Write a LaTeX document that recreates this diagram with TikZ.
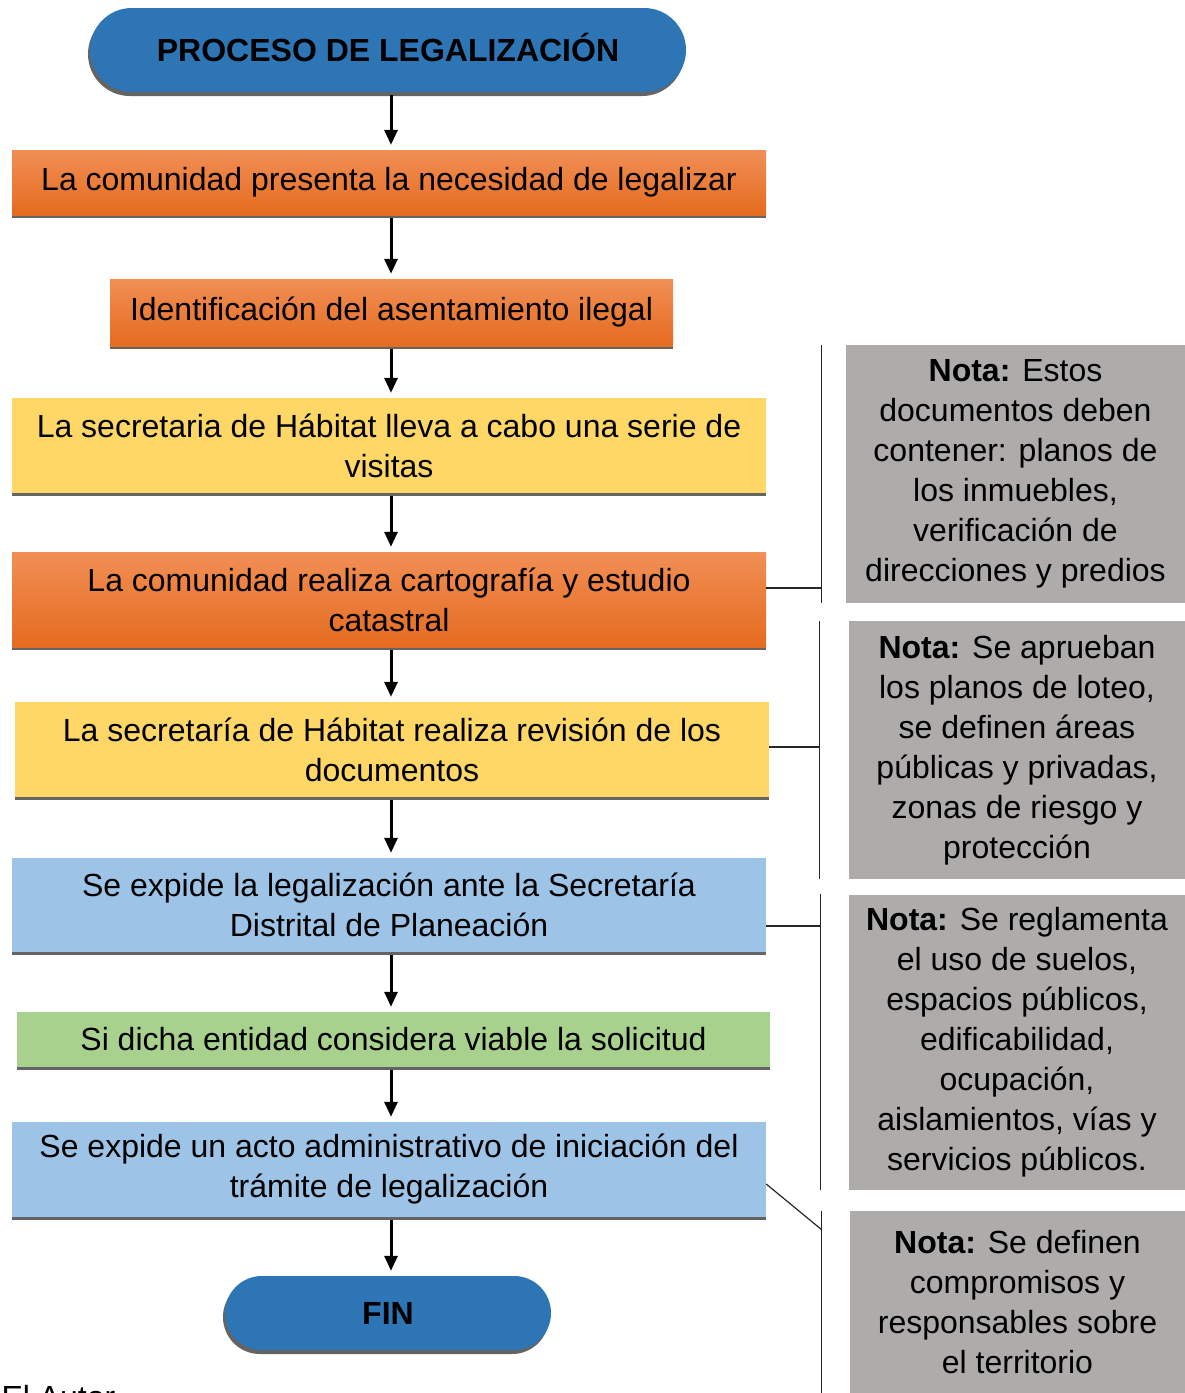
\documentclass[tikz,border=0pt]{standalone}
\usepackage{fontspec}
\setmainfont{Liberation Sans}
\usetikzlibrary{arrows.meta,shadows}
\definecolor{azul}{HTML}{2E75B6}
\definecolor{naranjaA}{HTML}{F18F55}
\definecolor{naranjaB}{HTML}{E56B1F}
\definecolor{amarillo}{HTML}{FED766}
\definecolor{celeste}{HTML}{9DC3E6}
\definecolor{verde}{HTML}{A9D18E}
\definecolor{gris}{HTML}{AEABAB}
\definecolor{sombra}{HTML}{646464}
\newcommand{\texto}{\fontsize{32}{40}\selectfont}
\newcommand{\guia}[2]{\draw[linea] (#1) -- (#2)}

\begin{document}
\begin{tikzpicture}[x=1pt, y=-1pt, font=\texto,
	caja/.style={rectangle, inner sep=0pt, align=center,
		drop shadow={shadow xshift=0pt, shadow yshift=-3pt, fill=sombra, opacity=1}},
	naranja/.style={caja, top color=naranjaA, bottom color=naranjaB},
	terminal/.style={rectangle, rounded corners=#1, fill=azul, inner sep=0pt, font=\texto\bfseries,
		drop shadow={shadow xshift=-2pt, shadow yshift=-4pt, fill=sombra, opacity=1}},
	nota/.style={rectangle, fill=gris, inner sep=0pt, align=center},
	flecha/.style={line width=3pt, -{Triangle[length=15pt,width=13pt]}},
	linea/.style={line width=1.2pt, black!85}]
	\useasboundingbox (0,0) rectangle (1185,1393);
%The steps
	\node[terminal=41.9pt, minimum width=596pt, minimum height=84pt, text depth=6pt] (inicio) at (388,50) {PROCESO DE LEGALIZACIÓN};
	\node[naranja, minimum width=754pt, minimum height=65pt] (necesidad) at (389,182.5) {La comunidad presenta la necesidad de legalizar};
	\node[naranja, minimum width=563pt, minimum height=67pt] (identificacion) at (391.5,312.5) {Identificación del asentamiento ilegal};
	\node[caja, fill=amarillo, minimum width=754pt, minimum height=95pt] (visitas) at (389,445.5) {La secretaria de Hábitat lleva a cabo una serie de\\ visitas};
	\node[naranja, minimum width=754pt, minimum height=95pt] (cartografia) at (389,599.5) {La comunidad realiza cartografía y estudio\\ catastral};
	\node[caja, fill=amarillo, minimum width=754pt, minimum height=95pt] (revision) at (392,749.5) {La secretaría de Hábitat realiza revisión de los\\ documentos};
	\node[caja, fill=celeste, minimum width=754pt, minimum height=94pt] (planeacion) at (389,905) {Se expide la legalización ante la Secretaría\\ Distrital de Planeación};
	\node[caja, fill=verde, minimum width=753pt, minimum height=55pt] (viable) at (393.5,1039.5) {Si dicha entidad considera viable la solicitud};
	\node[caja, fill=celeste, minimum width=754pt, minimum height=95pt] (acto) at (389,1169.5) {Se expide un acto administrativo de iniciación del\\ trámite de legalización};
	\node[terminal=36.9pt, minimum width=326pt, minimum height=74pt] (fin) at (388,1313) {FIN};
	\node[anchor=base west] (autor) at (-2,1408) {El Autor};
%Arrows
	\coordinate (eje) at (391,0);
	\foreach \a/\b in {inicio/necesidad, necesidad/identificacion, identificacion/visitas,
		visitas/cartografia, cartografia/revision, revision/planeacion,
		planeacion/viable, viable/acto, acto/fin}
		\draw[flecha, shorten <=3pt, shorten >=5pt] (\a.south -| eje) -- (\b.north -| eje);
%Notes
	\node[nota, minimum width=339pt, minimum height=258pt] (nota1) at (1015.5,474) {\textbf{Nota:} Estos\\ documentos deben\\ contener: planos de\\ los inmuebles,\\ verificación de\\ direcciones y predios};
	\node[nota, minimum width=336pt, minimum height=258pt] (nota2) at (1017,750) {\textbf{Nota:} Se aprueban\\ los planos de loteo,\\ se definen áreas\\ públicas y privadas,\\ zonas de riesgo y\\ protección};
	\node[nota, minimum width=336pt, minimum height=295pt] (nota3) at (1017,1042) {\textbf{Nota:} Se reglamenta\\ el uso de suelos,\\ espacios públicos,\\ edificabilidad,\\ ocupación,\\ aislamientos, vías y\\ servicios públicos.};
	\node[nota, minimum width=335pt, minimum height=182pt] (nota4) at (1017.5,1302) {\textbf{Nota:} Se definen\\ compromisos y\\ responsables sobre\\ el territorio};
%Brackets
	\coordinate (c1) at ([xshift=-24pt]nota1.north west);
	\coordinate (c2) at ([xshift=-29pt]nota2.north west);
	\coordinate (c3) at ([xshift=-28pt]nota3.north west);
	\coordinate (c4) at ([xshift=-28pt]nota4.north west);
	\draw[linea] (c1) -- (c1 |- nota1.south);
	\draw[linea] (c2) -- (c2 |- nota2.south);
	\draw[linea] (c3) -- (c3 |- nota3.south);
	\draw[linea] (c4) -- (c4 |- nota4.south);
	\guia{[yshift=11.5pt]cartografia.east}{[yshift=11.5pt]cartografia.east -| c1};
	\guia{[yshift=2.5pt]revision.east}{[yshift=2.5pt]revision.east -| c2};
	\guia{[yshift=-21pt]planeacion.east}{[yshift=-21pt]planeacion.east -| c3};
	\guia{[yshift=-14.5pt]acto.east}{[yshift=-19pt]c4};
\end{tikzpicture}
\end{document}
